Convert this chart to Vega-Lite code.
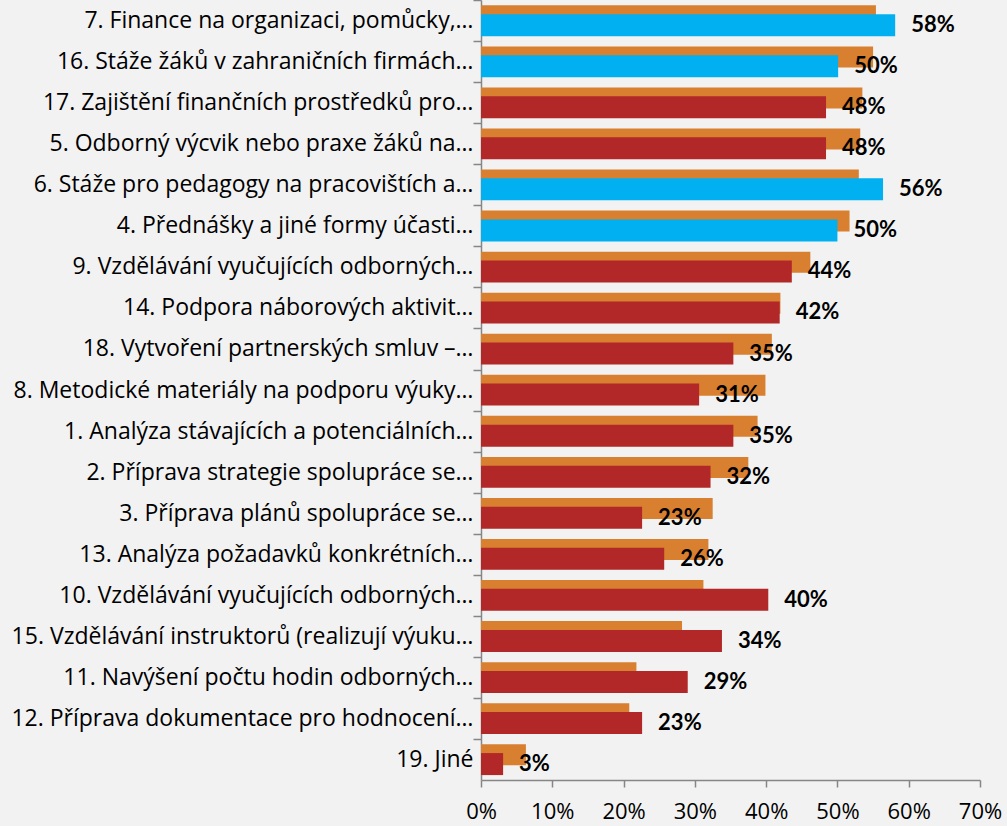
{
  "$schema": "https://vega.github.io/schema/vega-lite/v6.json",
  "width": 499,
  "height": 780,
  "autosize": {"type": "none"},
  "padding": {"left": 481, "top": 0, "right": 27, "bottom": 46},
  "background": "#f2f2f2",
  "config": {"view": {"stroke": null}, "font": "Open Sans"},
  "data": {
    "values": [
      {"cat": "7. Finance na organizaci, pomůcky,…", "orange": 0.554, "front": 0.581, "kind": "blue"},
      {"cat": "16. Stáže žáků v zahraničních firmách…", "orange": 0.550, "front": 0.501, "kind": "blue"},
      {"cat": "17. Zajištění finančních prostředků pro…", "orange": 0.535, "front": 0.484, "kind": "red"},
      {"cat": "5. Odborný výcvik nebo praxe žáků na…", "orange": 0.532, "front": 0.484, "kind": "red"},
      {"cat": "6. Stáže pro pedagogy na pracovištích a…", "orange": 0.530, "front": 0.564, "kind": "blue"},
      {"cat": "4. Přednášky a jiné formy účasti…", "orange": 0.517, "front": 0.500, "kind": "blue"},
      {"cat": "9. Vzdělávání vyučujících odborných…", "orange": 0.462, "front": 0.436, "kind": "red"},
      {"cat": "14. Podpora náborových aktivit…", "orange": 0.420, "front": 0.419, "kind": "red"},
      {"cat": "18. Vytvoření partnerských smluv –…", "orange": 0.408, "front": 0.354, "kind": "red"},
      {"cat": "8. Metodické materiály na podporu výuky…", "orange": 0.399, "front": 0.306, "kind": "red"},
      {"cat": "1. Analýza stávajících a potenciálních…", "orange": 0.388, "front": 0.354, "kind": "red"},
      {"cat": "2. Příprava strategie spolupráce se…", "orange": 0.375, "front": 0.322, "kind": "red"},
      {"cat": "3. Příprava plánů spolupráce se…", "orange": 0.325, "front": 0.226, "kind": "red"},
      {"cat": "13. Analýza požadavků konkrétních…", "orange": 0.319, "front": 0.257, "kind": "red"},
      {"cat": "10. Vzdělávání vyučujících odborných…", "orange": 0.312, "front": 0.403, "kind": "red"},
      {"cat": "15. Vzdělávání instruktorů (realizují výuku…", "orange": 0.282, "front": 0.338, "kind": "red"},
      {"cat": "11. Navýšení počtu hodin odborných…", "orange": 0.218, "front": 0.290, "kind": "red"},
      {"cat": "12. Příprava dokumentace pro hodnocení…", "orange": 0.208, "front": 0.226, "kind": "red"},
      {"cat": "19. Jiné", "orange": 0.063, "front": 0.031, "kind": "red"}
    ]
  },
  "encoding": {
    "y": {
      "field": "cat",
      "type": "nominal",
      "sort": null,
      "scale": {"paddingInner": 0, "paddingOuter": 0},
      "axis": {
        "title": null,
        "domainColor": "#868686",
        "domainWidth": 1.5,
        "tickColor": "#868686",
        "tickWidth": 1.5,
        "tickSize": 8,
        "tickOffset": -20.5,
        "labelOffset": 20.5,
        "labelPadding": 0,
        "labelLimit": 600,
        "labelFont": "Open Sans",
        "labelFontSize": 23,
        "labelColor": "#000000"
      }
    }
  },
  "layer": [
    {
      "mark": {"type": "bar", "height": 21, "yOffset": -4.7, "color": "#d87f30"},
      "encoding": {
        "x": {
          "field": "orange",
          "type": "quantitative",
          "scale": {"domain": [0, 0.7], "nice": false},
          "axis": {
            "title": null,
            "format": ".0%",
            "values": [0, 0.1, 0.2, 0.3, 0.4, 0.5, 0.6, 0.7],
            "grid": false,
            "domainColor": "#868686",
            "domainWidth": 1.5,
            "tickColor": "#868686",
            "tickWidth": 1.5,
            "tickSize": 7,
            "labelPadding": 14,
            "labelFont": "Open Sans",
            "labelFontSize": 22,
            "labelColor": "#000000",
            "labelFlush": false
          }
        }
      }
    },
    {
      "mark": {"type": "bar", "height": 22, "yOffset": 4.6},
      "encoding": {
        "x": {"field": "front", "type": "quantitative"},
        "color": {
          "field": "kind",
          "type": "nominal",
          "scale": {"domain": ["blue", "red"], "range": ["#00b0f0", "#b22727"]},
          "legend": null
        }
      }
    },
    {
      "mark": {"type": "text", "align": "left", "baseline": "middle", "dx": 16, "yOffset": 4.6, "font": "Lato", "fontWeight": "bold", "fontSize": 22, "color": "#000000"},
      "encoding": {
        "x": {"field": "front", "type": "quantitative"},
        "text": {"field": "front", "type": "quantitative", "format": ".0%"}
      }
    }
  ]
}
